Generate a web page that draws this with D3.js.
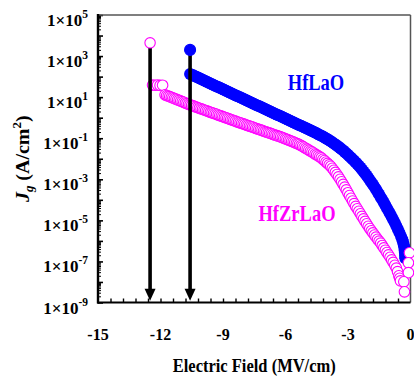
<!DOCTYPE html>
<html>
<head>
<meta charset="utf-8">
<script src="https://cdn.jsdelivr.net/npm/d3@7"></script>
<style>
  html, body { margin: 0; padding: 0; background: #fff; }
  svg { display: block; }
  svg text { font-family: "Liberation Serif", "Times New Roman", Times, "DejaVu Serif", serif; font-weight: 700; }
</style>
</head>
<body>
<svg id="chart" width="414" height="381"></svg>
<script>
// Gate leakage current density (A/cm^2) versus electric field (MV/cm)

// HfLaO sweep
const hfLaOField = [
  -10.58, -10.505, -10.43, -10.355, -10.28, -10.205, -10.13, -10.055, -9.98, -9.905,
  -9.83, -9.755, -9.68, -9.605, -9.53, -9.455, -9.38, -9.305, -9.23, -9.155,
  -9.08, -9.005, -8.93, -8.855, -8.78, -8.705, -8.63, -8.555, -8.48, -8.405,
  -8.33, -8.255, -8.18, -8.105, -8.03, -7.955, -7.88, -7.805, -7.73, -7.655,
  -7.58, -7.505, -7.43, -7.355, -7.28, -7.205, -7.13, -7.055, -6.98, -6.905,
  -6.83, -6.755, -6.68, -6.605, -6.53, -6.455, -6.38, -6.305, -6.23, -6.155,
  -6.08, -6.005, -5.93, -5.855, -5.78, -5.705, -5.63, -5.555, -5.48, -5.405,
  -5.33, -5.255, -5.18, -5.105, -5.03, -4.955, -4.88, -4.805, -4.73, -4.655,
  -4.58, -4.505, -4.43, -4.355, -4.28, -4.205, -4.13, -4.055, -3.98, -3.905,
  -3.83, -3.755, -3.68, -3.605, -3.53, -3.455, -3.38, -3.305, -3.23, -3.155,
  -3.08, -3.005, -2.93, -2.855, -2.78, -2.705, -2.63, -2.555, -2.48, -2.405,
  -2.33, -2.255, -2.18, -2.105, -2.03, -1.955, -1.88, -1.805, -1.73, -1.655,
  -1.58, -1.505, -1.43, -1.355, -1.28, -1.205, -1.13, -1.055, -0.98, -0.905,
  -0.83, -0.755, -0.68, -0.605, -0.53, -0.455, -0.40, -0.36, -0.33, -0.30,
  -0.285, -0.27, -0.26, -0.25
];
const hfLaOJ = [
  135, 124, 115, 105, 97.2, 89.5, 82.4, 76.0, 70.0, 64.4,
  59.4, 54.7, 50.5, 46.4, 42.8, 39.4, 36.3, 33.4, 30.8, 28.4,
  26.2, 24.1, 22.2, 20.5, 18.8, 17.3, 16.0, 14.7, 13.6, 12.5,
  11.5, 10.6, 9.77, 9.00, 8.30, 7.64, 7.05, 6.49, 5.97, 5.51,
  5.07, 4.67, 4.31, 3.96, 3.66, 3.37, 3.10, 2.86, 2.63, 2.42,
  2.23, 2.06, 1.90, 1.75, 1.61, 1.48, 1.36, 1.26, 1.16, 1.07,
  0.983, 0.906, 0.834, 0.769, 0.708, 0.652, 0.601, 0.553, 0.509, 0.470,
  0.433, 0.399, 0.367, 0.338, 0.312, 0.287, 0.264, 0.244, 0.224, 0.207,
  0.191, 0.174, 0.158, 0.145, 0.132, 0.120, 0.108, 0.0977, 0.0881, 0.0794,
  0.0708, 0.0631, 0.0556, 0.0490, 0.0432, 0.0380, 0.0331, 0.0288, 0.0251, 0.0214,
  0.0184, 0.0158, 0.0133, 0.0112, 9.44e-3, 7.94e-3, 6.61e-3, 5.50e-3, 4.52e-3, 3.72e-3,
  2.99e-3, 2.40e-3, 1.91e-3, 1.51e-3, 1.19e-3, 9.33e-4, 7.24e-4, 5.62e-4, 4.27e-4, 3.24e-4,
  2.43e-4, 1.82e-4, 1.35e-4, 1.00e-4, 7.33e-5, 5.37e-5, 3.94e-5, 2.88e-5, 2.09e-5, 1.51e-5,
  1.08e-5, 7.76e-6, 5.37e-6, 3.72e-6, 2.48e-6, 1.66e-6, 1.20e-6, 9.33e-7, 6.92e-7, 5.01e-7,
  3.63e-7, 2.63e-7, 1.91e-7, 1.41e-7
];

// HfZrLaO sweep
const hfZrLaOField = [
  -12.38, -12.26, -12.14, -12.02, -11.90,
  -11.78, -11.705, -11.63, -11.555, -11.48, -11.405, -11.33, -11.255, -11.18, -11.105,
  -11.03, -10.955, -10.88, -10.805, -10.73, -10.655, -10.58, -10.505, -10.43, -10.355,
  -10.28, -10.205, -10.13, -10.055, -9.98, -9.905, -9.83, -9.755, -9.68, -9.605,
  -9.53, -9.455, -9.38, -9.305, -9.23, -9.155, -9.08, -9.005, -8.93, -8.855,
  -8.78, -8.705, -8.63, -8.555, -8.48, -8.405, -8.33, -8.255, -8.18, -8.105,
  -8.03, -7.955, -7.88, -7.805, -7.73, -7.655, -7.58, -7.505, -7.43, -7.355,
  -7.28, -7.205, -7.13, -7.055, -6.98, -6.905, -6.83, -6.755, -6.68, -6.605,
  -6.53, -6.455, -6.38, -6.305, -6.23, -6.155, -6.08, -6.005, -5.93, -5.855,
  -5.78, -5.705, -5.63, -5.555, -5.48, -5.405, -5.33, -5.255, -5.18, -5.105,
  -5.03, -4.955, -4.88, -4.805, -4.73, -4.655, -4.58, -4.505, -4.43, -4.355,
  -4.28, -4.205, -4.13, -4.055, -3.98, -3.905, -3.83, -3.755, -3.68, -3.605,
  -3.53, -3.455, -3.38, -3.305, -3.23, -3.155, -3.08, -3.005, -2.93, -2.855,
  -2.78, -2.705, -2.63, -2.555, -2.48, -2.405, -2.33, -2.255, -2.18, -2.105,
  -2.03, -1.955, -1.88, -1.805, -1.73, -1.655, -1.58, -1.505, -1.43, -1.355,
  -1.28, -1.205, -1.13, -1.055, -0.98, -0.905, -0.83, -0.755, -0.68, -0.62,
  -0.56, -0.52, -0.48,
  -0.05, -0.10, -0.10, -0.32, -0.29
];
const hfZrLaOJ = [
  38.9, 38.0, 38.9, 37.2, 38.0,
  12.9, 12.0, 11.2, 10.5, 9.77, 9.12, 8.51, 7.94, 7.41, 6.92,
  6.46, 6.03, 5.62, 5.19, 4.79, 4.47, 4.17, 3.94, 3.72, 3.47,
  3.24, 3.05, 2.88, 2.69, 2.51, 2.37, 2.24, 2.09, 1.95, 1.84,
  1.74, 1.64, 1.55, 1.45, 1.35, 1.27, 1.20, 1.12, 1.05, 0.989,
  0.933, 0.871, 0.813, 0.767, 0.724, 0.676, 0.631, 0.596, 0.562, 0.531,
  0.501, 0.468, 0.437, 0.412, 0.389, 0.367, 0.347, 0.324, 0.302, 0.285,
  0.269, 0.254, 0.240, 0.224, 0.209, 0.197, 0.186, 0.176, 0.166, 0.155,
  0.145, 0.136, 0.129, 0.122, 0.115, 0.107, 0.100, 0.0933, 0.0871, 0.0813,
  0.0759, 0.0708, 0.0661, 0.0610, 0.0562, 0.0525, 0.0490, 0.0442, 0.0398, 0.0359,
  0.0324, 0.0292, 0.0263, 0.0237, 0.0214, 0.0191, 0.0170, 0.0153, 0.0138, 0.0123,
  0.0110, 9.44e-3, 8.13e-3, 6.92e-3, 5.89e-3, 5.01e-3, 4.27e-3, 3.43e-3, 2.75e-3, 2.16e-3,
  1.70e-3, 1.30e-3, 1.00e-3, 7.50e-4, 5.62e-4, 4.12e-4, 3.02e-4, 2.21e-4, 1.62e-4, 1.19e-4,
  8.71e-5, 6.46e-5, 4.79e-5, 3.63e-5, 2.75e-5, 2.07e-5, 1.55e-5, 1.17e-5, 8.91e-6, 6.76e-6,
  5.13e-6, 3.98e-6, 3.09e-6, 2.43e-6, 1.91e-6, 1.51e-6, 1.20e-6, 9.66e-7, 7.76e-7, 5.96e-7,
  4.57e-7, 3.51e-7, 2.69e-7, 2.07e-7, 1.58e-7, 1.19e-7, 8.91e-8, 6.46e-8, 4.68e-8, 3.16e-8,
  2.00e-8, 1.51e-8, 1.12e-8,
  2.63e-7, 8.51e-8, 2.82e-8, 1.02e-8, 3.31e-9
];

// Breakdown points (HfZrLaO, HfLaO) and the arrows dropped from them
const breakdownSeries = ["HfZrLaO", "HfLaO"];
const breakdownField = [-12.5, -10.58];
const breakdownJ = [4.4e3, 2.0e3];
const arrowTipJ = 1.2e-9;

// Axis ticks
const xTickLabels = [-15, -12, -9, -6, -3, 0];
const xMinorStep = 0.6;
const yDecadeLabels = [5, 3, 1, -1, -3, -5, -7, -9];

const colors = { HfLaO: "#0000ff", HfZrLaO: "#ff00ff" };
const serif = "Liberation Serif, Times New Roman, Times, DejaVu Serif, serif";

const svg = d3.select("#chart");
const plot = { left: 98, right: 410.5, top: 15, bottom: 302.5 };

const x = d3.scaleLinear().domain([-15, 0]).range([plot.left, plot.right]);
const y = d3.scaleLog().domain([1e-9, 1e5]).range([plot.bottom, plot.top]);

// every label gets the serif face as a presentation attribute as well
function label(sel) {
  return sel.attr("font-family", serif).attr("font-weight", "bold");
}

// ---- ticks ----
const xMinor = d3.range(-15 + xMinorStep, 0 - 1e-9, xMinorStep);
svg.append("g")
  .attr("transform", `translate(0,${plot.bottom})`)
  .call(d3.axisBottom(x).tickValues(xMinor).tickSizeInner(-4).tickSizeOuter(0).tickFormat(""))
  .call(g => g.select(".domain").remove())
  .call(g => g.selectAll("line").attr("stroke", "#000").attr("stroke-width", 1.4));

const yMinor = [];
for (let e = -9; e < 5; e++) for (let m = 2; m <= 9; m++) yMinor.push(m * Math.pow(10, e));
const yMajor = d3.range(-9, 6).map(e => Math.pow(10, e));

svg.append("g")
  .attr("transform", `translate(${plot.left},0)`)
  .call(d3.axisLeft(y).tickValues(yMinor).tickSizeInner(-3).tickSizeOuter(0).tickFormat(""))
  .call(g => g.select(".domain").remove())
  .call(g => g.selectAll("line").attr("stroke", "#000").attr("stroke-width", 1));

svg.append("g")
  .attr("transform", `translate(${plot.left},0)`)
  .call(d3.axisLeft(y).tickValues(yMajor).tickSizeInner(-5).tickSizeOuter(0).tickFormat(""))
  .call(g => g.select(".domain").remove())
  .call(g => g.selectAll("line").attr("stroke", "#000").attr("stroke-width", 1.6));

// ---- frame ----
svg.append("line").attr("x1", plot.left).attr("x2", plot.right).attr("y1", plot.top).attr("y2", plot.top)
  .attr("stroke", "#555").attr("stroke-width", 1.3);
svg.append("line").attr("x1", plot.right).attr("x2", plot.right).attr("y1", plot.top).attr("y2", plot.bottom)
  .attr("stroke", "#555").attr("stroke-width", 1.5);
svg.append("line").attr("x1", plot.left).attr("x2", plot.left).attr("y1", plot.top - 1).attr("y2", plot.bottom + 1)
  .attr("stroke", "#000").attr("stroke-width", 2.4);
svg.append("line").attr("x1", plot.left - 1).attr("x2", plot.right).attr("y1", plot.bottom).attr("y2", plot.bottom)
  .attr("stroke", "#000").attr("stroke-width", 2);

// ---- data ----
const hfLaO = hfLaOField.map((e, i) => ({ e, j: hfLaOJ[i] }));
const hfZrLaO = hfZrLaOField.map((e, i) => ({ e, j: hfZrLaOJ[i] }));

svg.append("g").selectAll("circle").data(hfLaO).join("circle")
  .attr("cx", d => x(d.e)).attr("cy", d => y(d.j)).attr("r", 6)
  .attr("fill", colors.HfLaO);

svg.append("g").selectAll("circle").data(hfZrLaO).join("circle")
  .attr("cx", d => x(d.e)).attr("cy", d => y(d.j)).attr("r", 5.3)
  .attr("fill", "#fff").attr("stroke", colors.HfZrLaO).attr("stroke-width", 1.1);

// breakdown arrows
const bd = breakdownField.map((e, i) => ({ e, j: breakdownJ[i], s: breakdownSeries[i] }));
const arrows = svg.append("g");
bd.forEach(d => {
  const ax = x(d.e), top = y(d.j) + 5, tip = y(arrowTipJ);
  arrows.append("line").attr("x1", ax).attr("x2", ax).attr("y1", top).attr("y2", tip - 10)
    .attr("stroke", "#000").attr("stroke-width", 3.6);
  arrows.append("path")
    .attr("d", `M${ax - 5.5},${tip - 12}L${ax + 5.5},${tip - 12}L${ax},${tip}Z`)
    .attr("fill", "#000");
});

// breakdown markers
svg.append("g").selectAll("circle").data(bd).join("circle")
  .attr("cx", d => x(d.e)).attr("cy", d => y(d.j)).attr("r", d => d.s === "HfLaO" ? 5.5 : 5.2)
  .attr("fill", d => d.s === "HfLaO" ? colors.HfLaO : "#fff")
  .attr("stroke", d => colors[d.s]).attr("stroke-width", 1.1);

// ---- tick labels ----
svg.append("g").selectAll("text").data(xTickLabels).join("text")
  .call(label)
  .attr("x", d => x(d)).attr("y", 340)
  .attr("text-anchor", "middle").attr("font-size", 16)
  .text(d => d === 0 ? "0" : "-" + Math.abs(d));

const yLab = svg.append("g").selectAll("text").data(yDecadeLabels).join("text")
  .call(label)
  .attr("x", 88).attr("y", d => y(Math.pow(10, d)) + 11)
  .attr("text-anchor", "end").attr("font-size", 17);
yLab.append("tspan").text("1\u00d710");
yLab.append("tspan").attr("dy", -8).attr("font-size", 11.5).text(d => d < 0 ? "-" + Math.abs(d) : String(d));

// ---- axis titles (slightly tall lettering) ----
svg.append("text").call(label)
  .attr("transform", `translate(${(plot.left + plot.right) / 2},372) scale(1,1.2)`)
  .attr("text-anchor", "middle").attr("font-size", 16.5).text("Electric Field (MV/cm)");

const yTitle = svg.append("text").call(label)
  .attr("transform", `translate(29,${(plot.top + plot.bottom) / 2}) rotate(-90) scale(1.08,1)`)
  .attr("text-anchor", "middle").attr("font-size", 18.5);
yTitle.append("tspan").attr("font-style", "italic").text("J");
yTitle.append("tspan").attr("font-style", "italic").attr("font-size", 12).attr("dy", 4).text("g");
yTitle.append("tspan").attr("dy", -4).text("\u00a0(A/cm");
yTitle.append("tspan").attr("font-size", 12).attr("dy", -8).text("2");
yTitle.append("tspan").attr("dy", 8).text(")");

// ---- series labels ----
svg.append("text").call(label).attr("transform", "translate(316,90) scale(1,1.2)")
  .attr("text-anchor", "middle")
  .attr("font-size", 18.5).attr("fill", colors.HfLaO).text("HfLaO");
svg.append("text").call(label).attr("transform", "translate(297,221) scale(1,1.2)")
  .attr("text-anchor", "middle")
  .attr("font-size", 18.5).attr("fill", colors.HfZrLaO).text("HfZrLaO");
</script>
</body>
</html>
